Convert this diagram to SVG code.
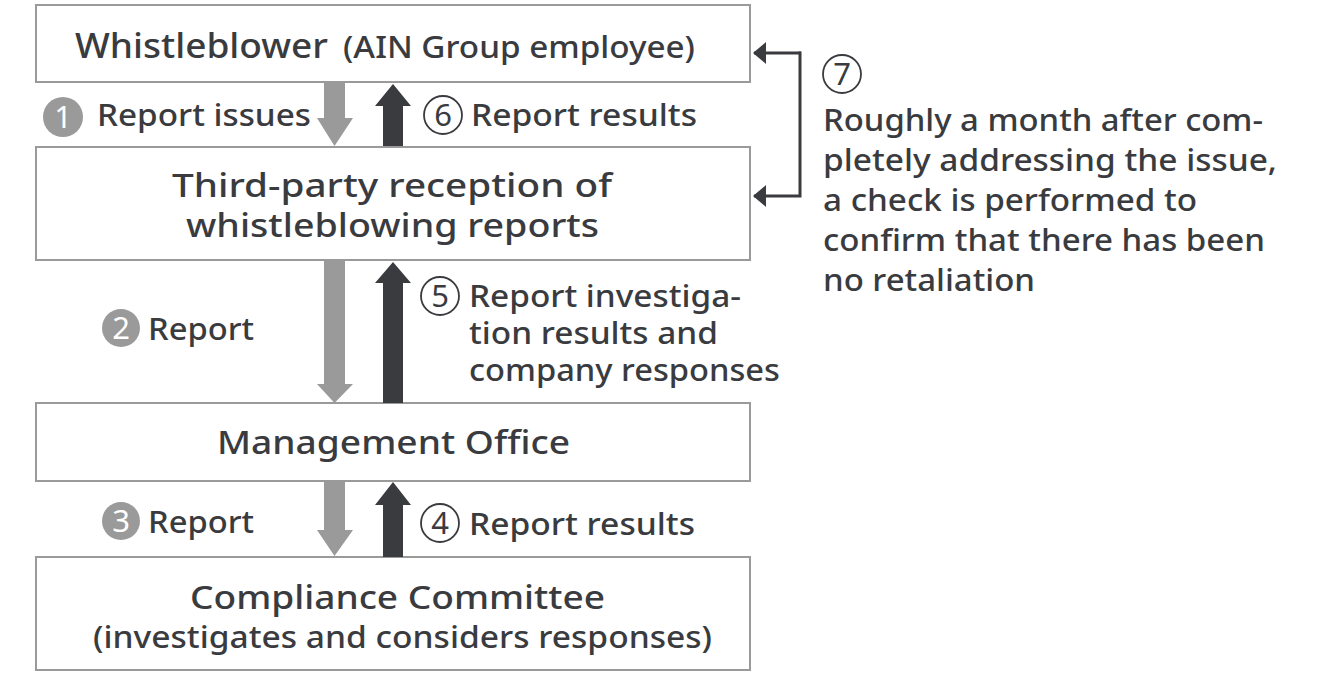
<svg xmlns="http://www.w3.org/2000/svg" width="1320" height="676" viewBox="0 0 1320 676">
<style>
.box{fill:#fff;stroke:#9a9a9a;stroke-width:2}
.t{font-family:"Noto Sans","Liberation Sans",sans-serif;fill:#3a3b3f;font-weight:500}
.bt{font-size:32px;text-anchor:start}
.lb{font-size:31px}
.lb5{font-size:30px}
.gr{fill:#9a9a9a}
.dk{fill:#3a3b3f}
.num{font-family:"Noto Sans","Liberation Sans",sans-serif;font-size:31px;text-anchor:middle}
.oc{fill:none;stroke:#3a3b3f;stroke-width:1.8}
.con{fill:none;stroke:#3a3b3f;stroke-width:3}
</style>
<defs>
<marker id="ah" viewBox="0 0 13 22" refX="12" refY="11" markerWidth="4.33" markerHeight="7.33" markerUnits="strokeWidth" orient="auto">
<path d="M0,0 L13,11 L0,22 z" fill="#3a3b3f"/>
</marker>
</defs>
<rect width="1320" height="676" fill="#fff"/>

<g id="whistleblower">
<rect class="box" x="36" y="5" width="714" height="77"/>
<text class="t" y="58"><tspan x="75" font-size="35" textLength="253" lengthAdjust="spacingAndGlyphs">Whistleblower</tspan><tspan x="343" font-size="30" textLength="352" lengthAdjust="spacingAndGlyphs">(AIN Group employee)</tspan></text>
</g>

<g id="third-party">
<rect class="box" x="36" y="147" width="714" height="113"/>
<text class="t bt" x="172" y="197" textLength="440" lengthAdjust="spacingAndGlyphs">Third-party reception of</text>
<text class="t bt" x="186" y="237" textLength="413" lengthAdjust="spacingAndGlyphs">whistleblowing reports</text>
</g>

<g id="management-office">
<rect class="box" x="36" y="403" width="714" height="78"/>
<text class="t bt" x="217" y="454" textLength="353" lengthAdjust="spacingAndGlyphs">Management Office</text>
</g>

<g id="compliance-committee">
<rect class="box" x="36" y="557" width="714" height="113"/>
<text class="t bt" x="190" y="609" textLength="415" lengthAdjust="spacingAndGlyphs">Compliance Committee</text>
<text class="t" x="93" y="648" font-size="30" textLength="619" lengthAdjust="spacingAndGlyphs">(investigates and considers responses)</text>
</g>

<g id="connectors">
<path class="gr" d="M324,83 H345 V118 H353 L334.5,146 L317,118 H324 Z"/>
<path class="dk" d="M393,84 L411,106 H403 V146 H383 V106 H375 Z"/>
<path class="gr" d="M324,261 H345 V384 H353 L334.5,403 L317,384 H324 Z"/>
<path class="dk" d="M393,262 L411,283 H403 V403 H383 V283 H375 Z"/>
<path class="gr" d="M324,482 H345 V530 H353 L334.5,556 L317,530 H324 Z"/>
<path class="dk" d="M393,482 L411,505 H403 V557 H383 V505 H375 Z"/>
<path class="con" d="M801,53 H754" marker-end="url(#ah)"/>
<path class="con" d="M800,51.5 V196 H754" marker-end="url(#ah)"/>
</g>

<g id="label-1">
<circle cx="63" cy="117" r="20" fill="#9a9a9a"/>
<text class="num" x="63" y="128" fill="#fff">1</text>
<text class="t lb" x="97" y="126" textLength="214" lengthAdjust="spacingAndGlyphs">Report issues</text>
</g>
<g id="label-6">
<circle class="oc" cx="443" cy="115" r="19"/>
<text class="num" x="443" y="126" fill="#3a3b3f">6</text>
<text class="t lb" x="471" y="126" textLength="226" lengthAdjust="spacingAndGlyphs">Report results</text>
</g>
<g id="label-2">
<circle cx="121" cy="328" r="19" fill="#9a9a9a"/>
<text class="num" x="121" y="339" fill="#fff">2</text>
<text class="t lb" x="148" y="340" textLength="106" lengthAdjust="spacingAndGlyphs">Report</text>
</g>
<g id="label-5">
<circle class="oc" cx="440" cy="296" r="19"/>
<text class="num" x="440" y="307" fill="#3a3b3f">5</text>
<text class="t lb5" x="469" y="307" textLength="272" lengthAdjust="spacingAndGlyphs">Report investiga-</text>
<text class="t lb5" x="469" y="344" textLength="249" lengthAdjust="spacingAndGlyphs">tion results and</text>
<text class="t lb5" x="469" y="381" textLength="311" lengthAdjust="spacingAndGlyphs">company responses</text>
</g>
<g id="label-3">
<circle cx="121" cy="521" r="19" fill="#9a9a9a"/>
<text class="num" x="121" y="532" fill="#fff">3</text>
<text class="t lb" x="148" y="533" textLength="106" lengthAdjust="spacingAndGlyphs">Report</text>
</g>
<g id="label-4">
<circle class="oc" cx="440" cy="523" r="19"/>
<text class="num" x="440" y="534" fill="#3a3b3f">4</text>
<text class="t lb" x="469" y="535" textLength="226" lengthAdjust="spacingAndGlyphs">Report results</text>
</g>
<g id="label-7">
<circle class="oc" cx="842" cy="74" r="19"/>
<text class="num" x="842" y="85" fill="#3a3b3f">7</text>
<text class="t lb" x="823" y="131" textLength="440" lengthAdjust="spacingAndGlyphs">Roughly a month after com-</text>
<text class="t lb" x="823" y="171" textLength="454" lengthAdjust="spacingAndGlyphs">pletely addressing the issue,</text>
<text class="t lb" x="823" y="211" textLength="374" lengthAdjust="spacingAndGlyphs">a check is performed to</text>
<text class="t lb" x="823" y="251" textLength="442" lengthAdjust="spacingAndGlyphs">confirm that there has been</text>
<text class="t lb" x="823" y="291" textLength="212" lengthAdjust="spacingAndGlyphs">no retaliation</text>
</g>
</svg>
